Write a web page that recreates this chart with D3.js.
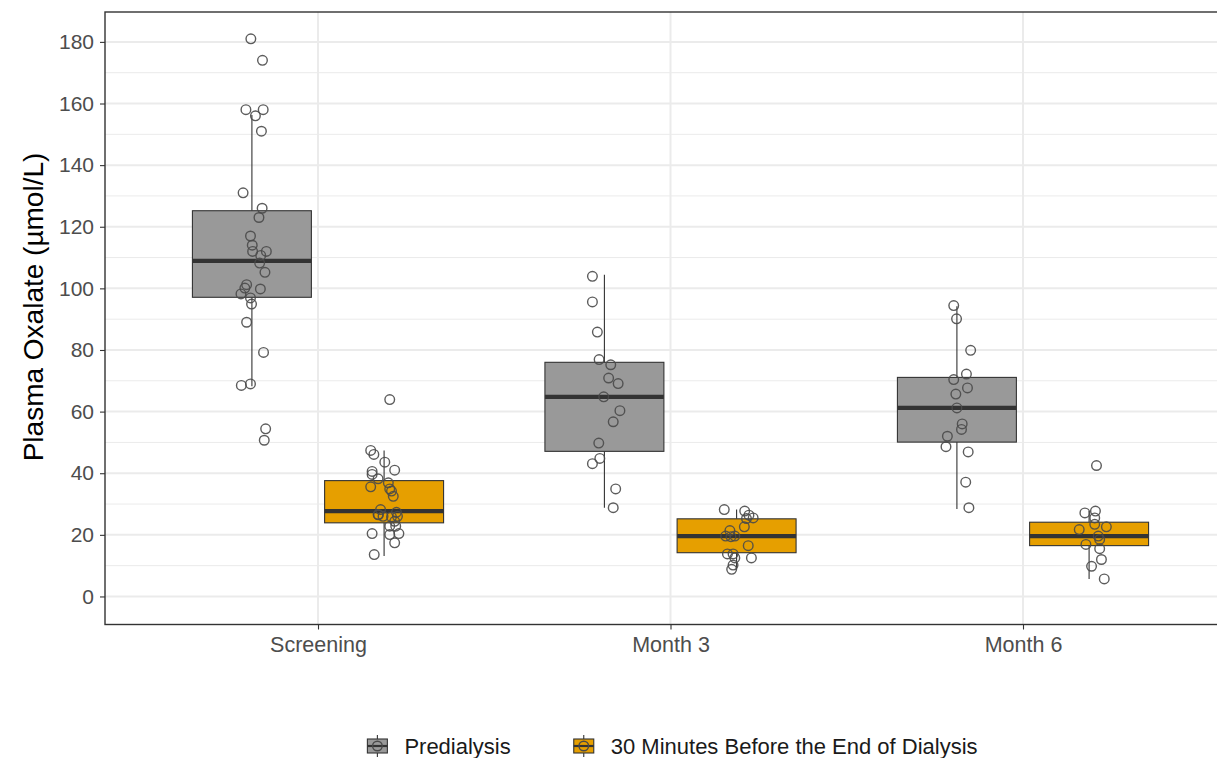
<!DOCTYPE html>
<html>
<head>
<meta charset="utf-8">
<script src="https://cdn.jsdelivr.net/npm/d3@7"></script>
<style>
  html, body { margin: 0; padding: 0; background: #ffffff; }
  svg { display: block; font-family: "Liberation Sans", Arial, Helvetica, sans-serif; }
</style>
</head>
<body>
<svg id="chart" width="1217" height="758"></svg>
<script>
// ---------------- DATA ----------------
const categories = ["Screening", "Month 3", "Month 6"];
const groups = ["Predialysis", "30 Minutes Before the End of Dialysis"];
const yTicks = [0, 20, 40, 60, 80, 100, 120, 140, 160, 180];
const yTitle = "Plasma Oxalate (\u00B5mol/L)";

// box statistics: [lower whisker, Q1, median, Q3, upper whisker]
const predialysisBoxes = [
  [68.2, 97.1, 108.9, 125.2, 156.3],
  [28.8, 47.1, 64.8, 76.0, 104.4],
  [28.4, 50.1, 61.2, 71.1, 94.2]
];
const endDialysisBoxes = [
  [13.1, 23.9, 27.7, 37.6, 47.4],
  [8.8, 14.2, 19.6, 25.2, 28.2],
  [5.7, 16.5, 19.6, 24.1, 27.7]
];

// individual observations (values) and their horizontal jitter (category units)
const predScreening = [181, 174, 158, 158, 156, 151, 131, 126, 123, 117, 114, 112, 112, 110.7, 108.2, 105.2, 101.2, 100.1, 99.8, 98.2, 96.9, 94.9, 89, 79.2, 68.5, 69, 54.4, 50.7];
const predScreeningJit = [-0.003, 0.030, -0.017, 0.032, 0.010, 0.027, -0.025, 0.029, 0.020, -0.004, 0.001, 0.002, 0.041, 0.025, 0.022, 0.037, -0.015, -0.020, 0.024, -0.031, -0.004, -0.001, -0.015, 0.033, -0.030, -0.004, 0.039, 0.035];

const endScreening = [63.9, 47.4, 46.1, 43.6, 41, 40.6, 39.6, 38.2, 35.6, 36.9, 34.9, 34.2, 32.5, 28.2, 26.6, 26, 27.3, 25.8, 26, 24.4, 22.8, 22.8, 20.4, 20.1, 20.4, 17.4, 13.6, 26.5];
const endScreeningJit = [0.016, -0.038, -0.029, 0.002, 0.030, -0.034, -0.034, -0.017, -0.038, 0.012, 0.016, 0.021, 0.026, -0.010, -0.017, -0.003, 0.035, 0.021, 0.038, 0.030, 0.016, 0.033, -0.034, 0.016, 0.042, 0.030, -0.028, -0.016];

const predMonth3 = [103.9, 95.6, 85.8, 76.9, 75.2, 70.9, 69.1, 64.8, 60.3, 56.7, 49.8, 44.8, 43.1, 34.9, 28.8];
const predMonth3Jit = [-0.034, -0.034, -0.020, -0.015, 0.018, 0.012, 0.039, -0.002, 0.044, 0.025, -0.016, -0.013, -0.034, 0.032, 0.025];

const endMonth3 = [28.2, 27.7, 26.4, 25.5, 25.3, 22.6, 21.4, 19.6, 19.4, 19.6, 16.5, 13.8, 13.8, 12.5, 12.5, 10.2, 8.8];
const endMonth3Jit = [-0.035, 0.023, 0.035, 0.047, 0.028, 0.022, -0.019, -0.031, -0.016, -0.005, 0.033, -0.026, -0.010, 0.042, -0.005, -0.010, -0.014];

const predMonth6 = [94.4, 90.1, 79.9, 72.2, 70.4, 67.7, 65.7, 61.2, 56, 54.2, 52, 48.6, 46.9, 37.1, 28.8];
const predMonth6Jit = [-0.009, -0.001, 0.039, 0.027, -0.009, 0.030, -0.003, 0.000, 0.015, 0.013, -0.027, -0.031, 0.032, 0.025, 0.034];

const endMonth6 = [42.5, 27.1, 27.7, 25.5, 23.4, 22.6, 21.7, 19.6, 18.5, 16.9, 15.5, 12, 9.8, 5.7];
const endMonth6Jit = [0.021, -0.012, 0.018, 0.016, 0.016, 0.049, -0.028, 0.026, 0.030, -0.009, 0.030, 0.035, 0.007, 0.043];

// ---------------- BUILD ----------------
const boxes = [predialysisBoxes, endDialysisBoxes];
const pointSets = [
  [[predScreening, predScreeningJit], [predMonth3, predMonth3Jit], [predMonth6, predMonth6Jit]],
  [[endScreening, endScreeningJit], [endMonth3, endMonth3Jit], [endMonth6, endMonth6Jit]]
];
const fills = ["#999999", "#E69F00"];

const svg = d3.select("#chart");
const panel = { left: 105, right: 1236, top: 12, bottom: 624.5 };

// x: continuous positions of the discrete categories (1..3)
const x = d3.scaleLinear().domain([1, categories.length]).range([318, 1023]);
const y = d3.scaleLinear().domain([-9.1, 189.7]).range([panel.bottom, panel.top]);

const dodge = 0.75;
const boxW = dodge / 2 * 0.9;
const groupOffset = g => (g === 0 ? -1 : 1) * dodge / 4;

const fontFam = "'Liberation Sans', Arial, sans-serif";

// panel background
svg.append("rect").attr("x", panel.left).attr("y", panel.top)
  .attr("width", panel.right - panel.left).attr("height", panel.bottom - panel.top)
  .attr("fill", "#ffffff");

// minor gridlines
const minor = d3.range(-10, 190, 20).filter(v => v > -9.1 && v < 189.7);
svg.append("g").selectAll("line").data(minor).join("line")
  .attr("x1", panel.left).attr("x2", panel.right)
  .attr("y1", d => y(d)).attr("y2", d => y(d))
  .attr("stroke", "#ebebeb").attr("stroke-width", 1);
// major gridlines
svg.append("g").selectAll("line").data(yTicks).join("line")
  .attr("x1", panel.left).attr("x2", panel.right)
  .attr("y1", d => y(d)).attr("y2", d => y(d))
  .attr("stroke", "#ebebeb").attr("stroke-width", 2);
svg.append("g").selectAll("line").data(categories).join("line")
  .attr("x1", (d, i) => x(i + 1)).attr("x2", (d, i) => x(i + 1))
  .attr("y1", panel.top).attr("y2", panel.bottom)
  .attr("stroke", "#ebebeb").attr("stroke-width", 2);

// boxplots
const ink = "#333333";
boxes.forEach((set, g) => {
  const gg = svg.append("g");
  set.forEach((s, i) => {
    const cx = x(i + 1 + groupOffset(g));
    const x0 = x(i + 1 + groupOffset(g) - boxW / 2);
    const x1 = x(i + 1 + groupOffset(g) + boxW / 2);
    const [lo, q1, med, q3, hi] = s;
    gg.append("line").attr("x1", cx).attr("x2", cx).attr("y1", y(hi)).attr("y2", y(q3))
      .attr("stroke", ink).attr("stroke-width", 1.1);
    gg.append("line").attr("x1", cx).attr("x2", cx).attr("y1", y(q1)).attr("y2", y(lo))
      .attr("stroke", ink).attr("stroke-width", 1.1);
    gg.append("rect").attr("x", x0).attr("y", y(q3)).attr("width", x1 - x0).attr("height", y(q1) - y(q3))
      .attr("fill", fills[g]).attr("stroke", ink).attr("stroke-width", 1.1);
    gg.append("line").attr("x1", x0).attr("x2", x1).attr("y1", y(med)).attr("y2", y(med))
      .attr("stroke", ink).attr("stroke-width", 4.2);
  });
});

// jittered points
pointSets.forEach((sets, g) => {
  sets.forEach(([vals, jit], i) => {
    svg.append("g").selectAll("circle").data(vals).join("circle")
      .attr("cx", (d, k) => x(i + 1 + groupOffset(g) + jit[k]))
      .attr("cy", d => y(d))
      .attr("r", 4.8)
      .attr("fill", "none")
      .attr("stroke", "#4a4a4a")
      .attr("stroke-opacity", 0.9)
      .attr("stroke-width", 1.4);
  });
});

// panel border
svg.append("rect").attr("x", panel.left).attr("y", panel.top)
  .attr("width", panel.right - panel.left).attr("height", panel.bottom - panel.top)
  .attr("fill", "none").attr("stroke", ink).attr("stroke-width", 1.4);

// y axis
const yAxis = d3.axisLeft(y).tickValues(yTicks).tickSize(5).tickPadding(6);
const yg = svg.append("g").attr("transform", `translate(${panel.left},0)`).call(yAxis);
yg.select(".domain").remove();
yg.selectAll(".tick line").attr("stroke", ink).attr("stroke-width", 1.1);
yg.selectAll(".tick text").attr("fill", "#4d4d4d").attr("font-size", 21)
  .attr("font-family", fontFam);

// x axis
const xAxis = d3.axisBottom(x).tickValues(categories.map((c, i) => i + 1))
  .tickFormat((d) => categories[d - 1]).tickSize(5).tickPadding(7);
const xg = svg.append("g").attr("transform", `translate(0,${panel.bottom})`).call(xAxis);
xg.select(".domain").remove();
xg.selectAll(".tick line").attr("stroke", ink).attr("stroke-width", 1.1);
xg.selectAll(".tick text").attr("fill", "#4d4d4d").attr("font-size", 21.5)
  .attr("font-family", fontFam);

// y title
svg.append("text")
  .attr("transform", `translate(43,307) rotate(-90)`)
  .attr("text-anchor", "middle")
  .attr("font-size", 28)
  .attr("fill", "#000")
  .text(yTitle);

// legend
const legY = 746;
const lg = svg.append("g");
const items = groups.map((name, g) => {
  const t = lg.append("text").attr("font-size", 22).attr("fill", "#1a1a1a")
    .attr("dy", "0.35em").attr("y", legY).text(name);
  return { t, w: t.node().getComputedTextLength(), g };
});
const keyW = 22, keyGap = 16, itemGap = 62;
const total = items.reduce((a, it) => a + keyW + keyGap + it.w, 0) + itemGap * (items.length - 1);
let cur = 672 - total / 2;
items.forEach(it => {
  const kx = cur + keyW / 2;
  lg.append("line").attr("x1", kx).attr("x2", kx).attr("y1", legY - 11).attr("y2", legY + 11)
    .attr("stroke", ink).attr("stroke-width", 1.1);
  lg.append("rect").attr("x", cur + 1).attr("y", legY - 7).attr("width", keyW - 2).attr("height", 14)
    .attr("fill", fills[it.g]).attr("stroke", ink).attr("stroke-width", 1.1);
  lg.append("line").attr("x1", cur + 1).attr("x2", cur + keyW - 1).attr("y1", legY).attr("y2", legY)
    .attr("stroke", ink).attr("stroke-width", 2.2);
  lg.append("circle").attr("cx", kx).attr("cy", legY).attr("r", 4.8)
    .attr("fill", "none").attr("stroke", "#4a4a4a").attr("stroke-width", 1.4);
  it.t.attr("x", cur + keyW + keyGap);
  cur += keyW + keyGap + it.w + itemGap;
});
</script>
</body>
</html>
